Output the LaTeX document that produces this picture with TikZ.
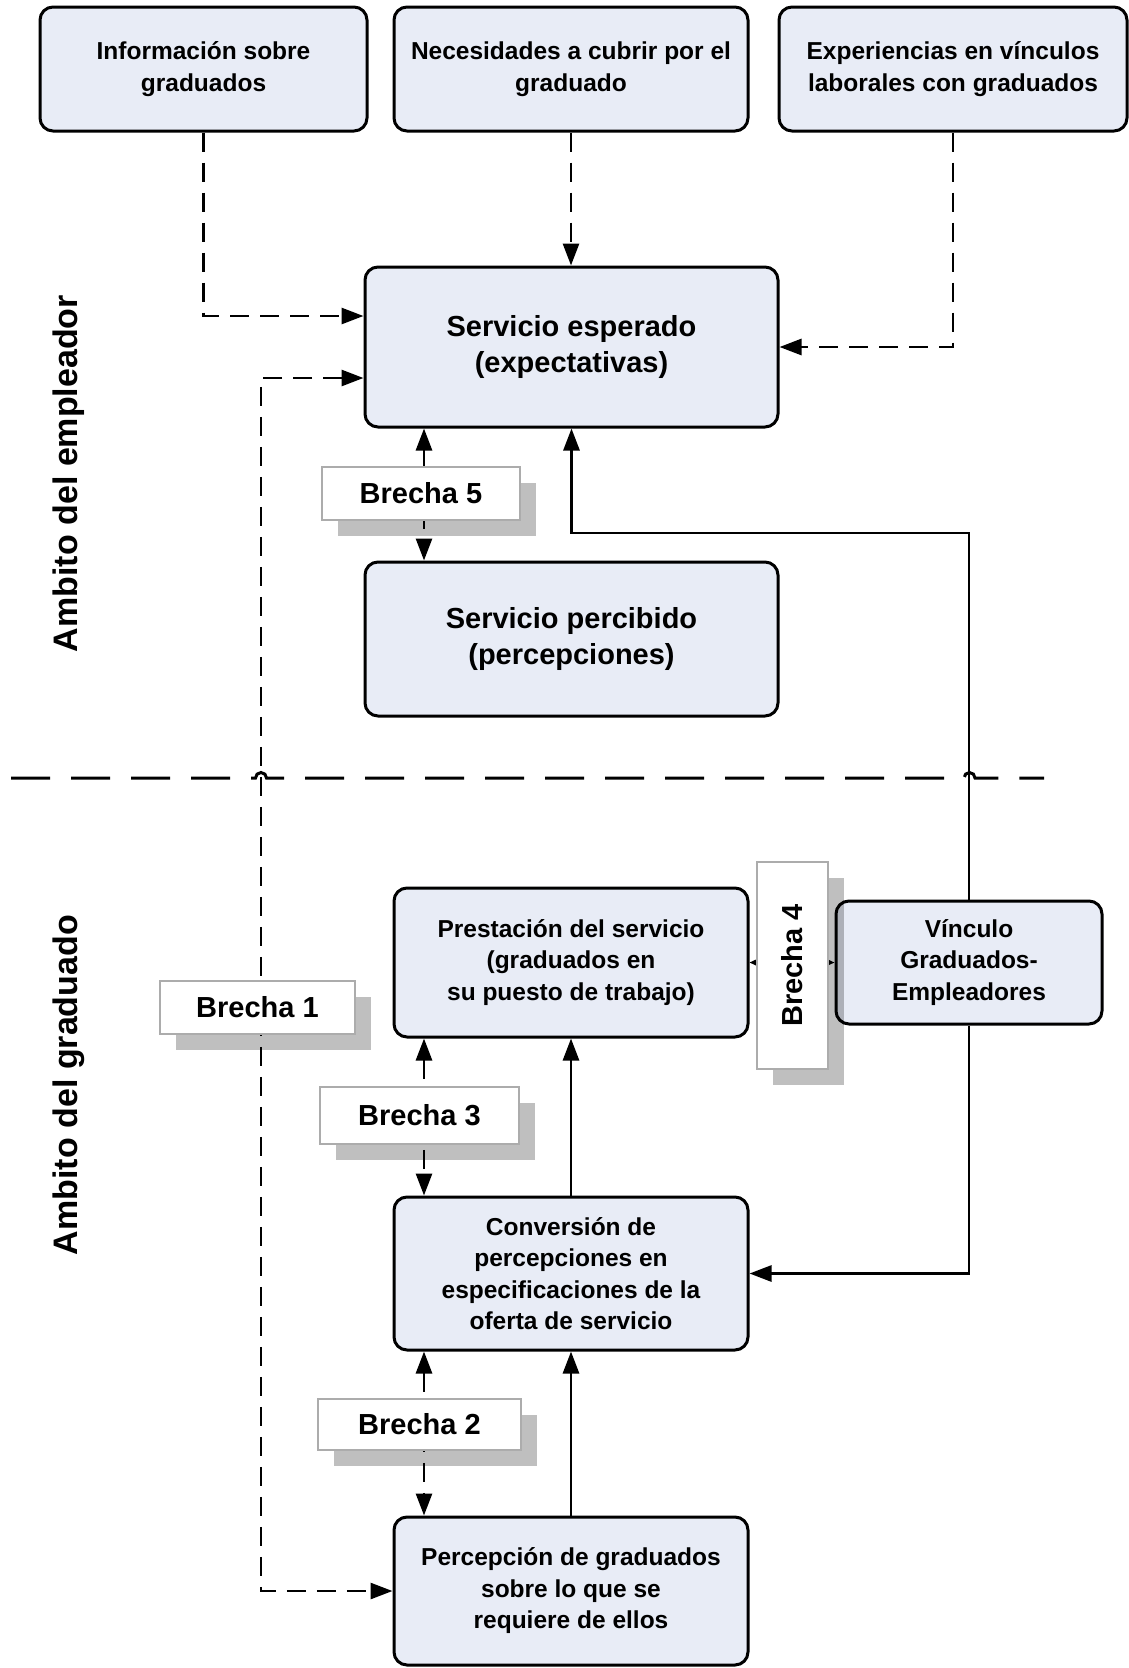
\documentclass[tikz,border=0pt]{standalone}
\usepackage{fontspec}
\usepackage{graphicx}
\setmainfont{Liberation Sans}
\usetikzlibrary{arrows.meta,shadows}
\definecolor{boxfill}{RGB}{232,236,246}
\definecolor{bborder}{RGB}{172,172,172}
\begin{document}
\begin{tikzpicture}[x=1pt,y=-1pt,
  >={Triangle[length=22pt,width=16pt]},
  mainbox/.style={draw=black, line width=3pt, fill=boxfill, rounded corners=13pt,
    align=center, inner sep=0pt, font=\bfseries\fontsize{24.5}{31.5}\selectfont},
  bigtext/.style={font=\bfseries\fontsize{29}{36}\selectfont},
  gapbox/.style={draw=bborder, line width=2.2pt, fill=white, inner sep=0pt,
    font=\bfseries\fontsize{29}{35}\selectfont,
    drop shadow={shadow xshift=16pt, shadow yshift=-16pt, fill=black, opacity=0.25}},
  sconn/.style={line width=2.8pt},
  dconn/.style={line width=2.8pt, dash pattern=on 19pt off 11pt},
  sepline/.style={line width=3pt, dash pattern=on 39pt off 21pt},
  ambito/.style={rotate=90, font=\bfseries\fontsize{34}{40}\selectfont}
]
\useasboundingbox (0,0) rectangle (1129,1668);

% main boxes
\node[mainbox, minimum width=327pt, minimum height=124pt] (info) at (203.5,69) {Información sobre\\graduados};
\node[mainbox, minimum width=354pt, minimum height=124pt] (nec) at (571,69) {Necesidades a cubrir por el\\graduado};
\node[mainbox, minimum width=348pt, minimum height=124pt] (exp) at (953,69) {Experiencias en vínculos\\laborales con graduados};
\node[mainbox, bigtext, minimum width=413pt, minimum height=160pt] (se) at (571.5,347) {Servicio esperado\\(expectativas)};
\node[mainbox, bigtext, minimum width=413pt, minimum height=154pt] (sp) at (571.5,639) {Servicio percibido\\(percepciones)};
\node[mainbox, minimum width=354pt, minimum height=149pt] (pres) at (571,962.5) {Prestación del servicio\\(graduados en\\su puesto de trabajo)};
\node[mainbox, minimum width=266pt, minimum height=123pt] (vin) at (969,962.5) {Vínculo\\Graduados-\\Empleadores};
\node[mainbox, minimum width=354pt, minimum height=153pt] (conv) at (571,1273.5) {Conversión de\\percepciones en\\especificaciones de la\\oferta de servicio};
\node[mainbox, minimum width=354pt, minimum height=148pt] (perc) at (571,1591) {Percepción de graduados\\sobre lo que se\\requiere de ellos};

% helper coordinates
\coordinate (colA) at (261,0);
\coordinate (colB) at (424,0);
\coordinate (jA) at (571.5,533);

% separator with line hops
\draw[sepline] (11,778) -- (255.5,778) arc[start angle=180, end angle=0, radius=5.5pt]
  -- (964,778) arc[start angle=180, end angle=0, radius=5.5pt] -- (1044,778);

% connectors
\draw[dconn,->] (info.south) |- ([yshift=31pt]se.west);
\draw[dconn,->] (nec.south) -- (nec.south |- se.north);
\draw[dconn,->] (exp.south) |- (se.east);
\draw[dconn,<->] ([yshift=-31pt]se.west) -| (colA |- perc.west) -- (perc.west);
\draw[sconn,->] (vin.north) |- (jA) -- (se.south);
\draw[sconn,->] (vin.south) |- (conv.east);
\draw[sconn,->] (conv.north) -- (pres.south);
\draw[sconn,->] (perc.north) -- (conv.south);
\draw[dconn,<->] (se.south -| colB) -- (sp.north -| colB);
\draw[dconn,<->] (pres.south -| colB) -- (conv.north -| colB);
\draw[dconn,<->] (conv.south -| colB) -- (perc.north -| colB);
\draw[line width=1.5pt, {Triangle[length=7pt,width=6pt]}-{Triangle[length=7pt,width=6pt]}] (pres.east) -- (vin.west);

% gap boxes
\node[gapbox, minimum width=198pt, minimum height=53pt] (b5) at (421,493.5) {Brecha 5};
\node[gapbox, minimum width=195pt, minimum height=53pt] (b1) at (257.5,1007.5) {Brecha 1};
\node[gapbox, minimum width=199pt, minimum height=57pt] (b3) at (419.5,1115.5) {Brecha 3};
\node[gapbox, minimum width=203pt, minimum height=51pt] (b2) at (419.5,1424.5) {Brecha 2};
\node[gapbox, minimum width=71pt, minimum height=207pt] (b4) at (792.5,965.5) {\rotatebox{90}{Brecha 4}};

% side labels
\node[ambito] (amb1) at (69,473.5) {Ambito del empleador};
\node[ambito] (amb2) at (69,1085) {Ambito del graduado};
\end{tikzpicture}
\end{document}
